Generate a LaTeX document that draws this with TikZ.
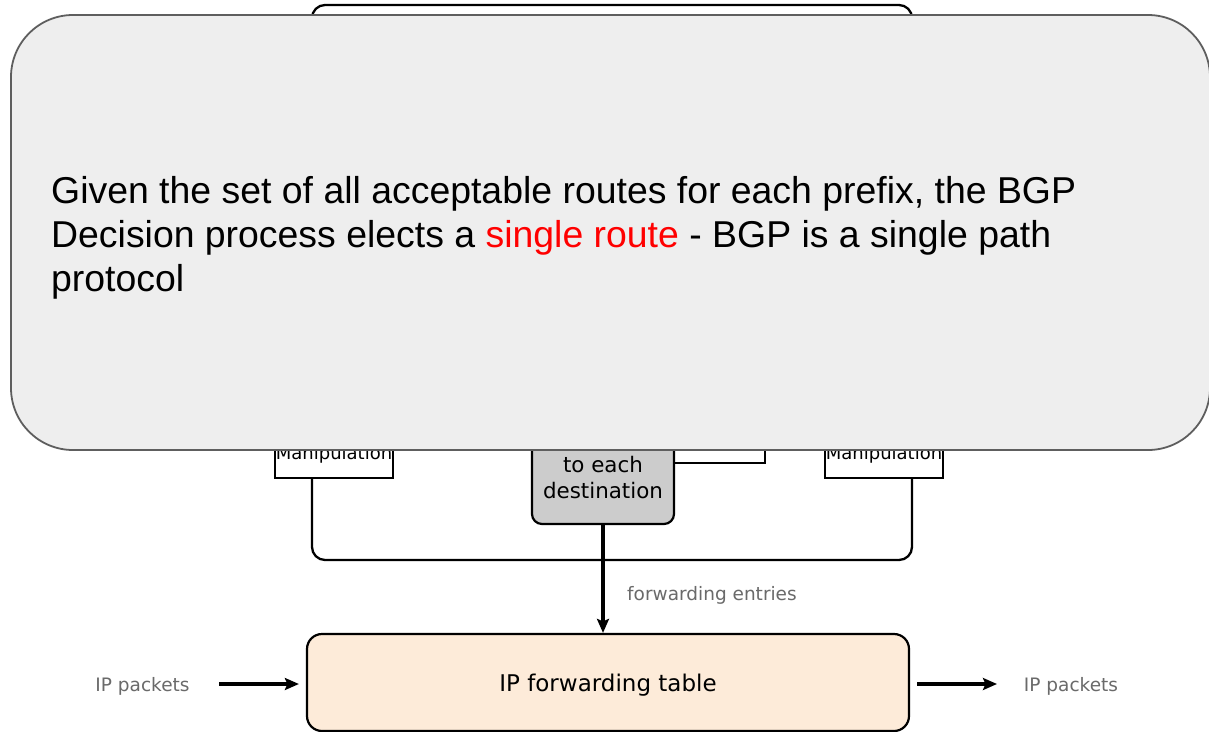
\documentclass[tikz,border=0pt]{standalone}
\usepackage{fontspec}
\setmainfont{Liberation Sans}
\newfontfamily\diagfont{DejaVu Sans}
\usetikzlibrary{arrows.meta}

\definecolor{notefill}{HTML}{EEEEEE}
\definecolor{noteedge}{HTML}{5E5E5E}
\definecolor{ribfill}{HTML}{CCCCCC}
\definecolor{fibfill}{HTML}{FDEBD9}
\definecolor{lblgray}{HTML}{6A6A6A}
\definecolor{hotred}{HTML}{FF0000}

\tikzset{
  frame/.style={draw=black, line width=2.3pt, rounded corners=13pt, fill=none,
    inner sep=0pt},
  manipbox/.style={draw=black, line width=2.2pt, fill=white, inner sep=0pt,
    minimum width=118pt, minimum height=78pt},
  ribbox/.style={draw=black, line width=2.2pt, fill=ribfill, rounded corners=10pt,
    inner sep=0pt, minimum width=142pt, minimum height=144pt},
  fibbox/.style={draw=black, line width=2.2pt, fill=fibfill, rounded corners=15pt,
    inner sep=0pt, minimum width=602pt, minimum height=97pt, text depth=0pt,
    font=\diagfont\fontsize{23}{26}\selectfont},
  plain/.style={draw=black, line width=2.4pt},
  flow/.style={draw=black, line width=3.2pt,
    -{Stealth[length=14pt,width=12pt,inset=2.5pt]}},
  lbl/.style={inner sep=0pt, text=lblgray, font=\diagfont\fontsize{18.5}{22}\selectfont},
  notebox/.style={draw=noteedge, line width=1.8pt, fill=notefill,
    rounded corners=62pt, inner sep=0pt, minimum width=1199pt, minimum height=435pt},
  noteline/.style={inner sep=0pt, anchor=base west,
    font=\fontsize{37.4}{44}\selectfont}
}

\begin{document}
\begin{tikzpicture}[x=1pt,y=-1pt]
  \useasboundingbox (0,0) rectangle (1209,731);
  \clip (0,0) rectangle (1209,731);
  \fill[white] (0,0) rectangle (1209,731);

  % BGP router frame
  \node[frame, minimum width=600pt, minimum height=555pt] (bgp) at (612,282.5) {};

  % import / export policy boxes sitting on the frame's sides
  \node[manipbox] (inmanip) at (334,439) {};
  \node[manipbox] (outmanip) at (884,439) {};
  \node[inner sep=0pt, anchor=base, font=\diagfont\fontsize{18}{20}\selectfont]
    (inmaniptxt) at (inmanip.center |- 0,459) {Manipulation};
  \node[inner sep=0pt, anchor=base, font=\diagfont\fontsize{18}{20}\selectfont]
    (outmaniptxt) at (outmanip.center |- 0,459) {Manipulation};

  % best-route selection box
  \node[ribbox] (best) at (603,452) {};
  \node[inner sep=0pt, anchor=base, align=center,
        font=\diagfont\fontsize{21.4}{26}\selectfont]
    (besttxt) at (603,498) {to each\\destination};

  % link from the best routes towards the export side
  \coordinate (toexport) at (765,420);
  \draw[plain] ([yshift=-11pt]best.east) -| (toexport);

  % forwarding table and packet flow
  \node[fibbox] (fib) at (608,682.5) {IP forwarding table};
  \draw[flow] (best.south) -- (best.south |- fib.north);
  \node[lbl, anchor=base west] (fwdlbl) at (627,600) {forwarding entries};

  \node[lbl, anchor=base] (inlbl) at (142.5,691) {IP packets};
  \node[lbl, anchor=base] (outlbl) at (1071,691) {IP packets};
  \coordinate (inStart) at (219,684);
  \coordinate (outEnd) at (997,684);
  \draw[flow, shorten >=7pt] (inStart) -- (inStart -| fib.west);
  \draw[flow, shorten <=7pt] (outEnd -| fib.east) -- (outEnd);

  % callout laid over the upper part of the router
  \node[notebox] (note) at (610.5,232.5) {};
  \node[noteline] (noteA) at (51,203)
    {Given the set of all acceptable routes for each prefix, the BGP};
  \node[noteline] (noteB) at (51,247)
    {Decision process elects a \textcolor{hotred}{single route} - BGP is a single path};
  \node[noteline] (noteC) at (51,291) {protocol};
\end{tikzpicture}
\end{document}
